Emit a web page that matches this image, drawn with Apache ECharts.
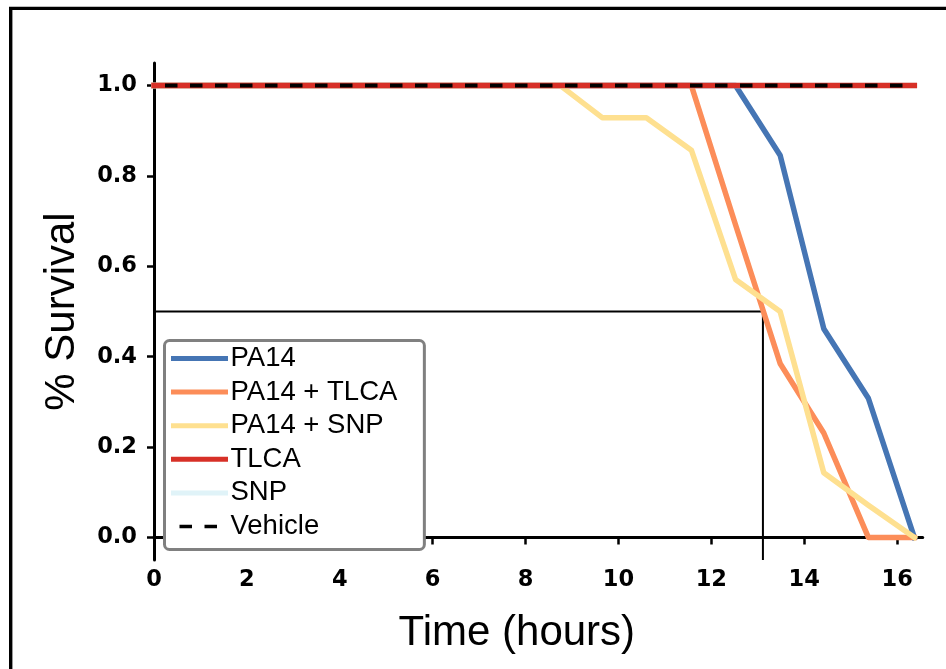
<!DOCTYPE html>
<html>
<head>
<meta charset="utf-8">
<script src="https://cdn.jsdelivr.net/npm/echarts@6/dist/echarts.min.js"></script>
<style>
html,body{margin:0;padding:0;background:#fff;}
#chart{width:946px;height:669px;}
</style>
</head>
<body>
<div id="chart"></div>
<script>
// ---- data ----
var times = [0, 8.75, 9.65, 10.6, 11.57, 12.52, 13.48, 14.42, 15.38, 16.37];
var pa14      = [1, 1, 1, 1, 1, 1, 0.846, 0.462, 0.308, 0];
var pa14Tlca  = [1, 1, 1, 1, 1, 0.692, 0.385, 0.231, 0, 0];
var pa14Snp   = [1, 1, 0.929, 0.929, 0.857, 0.571, 0.5, 0.143, 0.071, 0];
var tlca      = [1, 1, 1, 1, 1, 1, 1, 1, 1, 1];
var snp       = [1, 1, 1, 1, 1, 1, 1, 1, 1, 1];
var vehicle   = [1, 1, 1, 1, 1, 1, 1, 1, 1, 1];
var seriesNames = ['PA14', 'PA14 + TLCA', 'PA14 + SNP', 'TLCA', 'SNP', 'Vehicle'];
var medianSurvival = 0.5;
var medianTime = 13.11;
var xTicks = [0, 2, 4, 6, 8, 10, 12, 14, 16];
var yTicks = [0, 0.2, 0.4, 0.6, 0.8, 1.0];
var xLabel = 'Time (hours)';
var yLabel = '% Survival';

function pairs(ys) { return times.map(function (t, i) { return [t, ys[i]]; }); }

var chart = echarts.init(document.getElementById('chart'), null, {renderer: 'canvas'});

function lineSeries(name, ys, color, z) {
  return {
    name: name, type: 'line', data: pairs(ys), symbol: 'none', z: z,
    lineStyle: {color: color, width: 5.5, cap: 'square', join: 'round'},
    itemStyle: {color: color},
    animation: false
  };
}

var tickFont = {fontFamily: '"DejaVu Sans", sans-serif', fontWeight: 'bold', fontSize: 22.5, color: '#000'};
var nameFont = {fontFamily: '"Liberation Sans", Arial, sans-serif', fontSize: 42, color: '#000'};

var option = {
  animation: false,
  backgroundColor: '#fff',
  grid: {left: 154, right: 23.3, top: 63, bottom: 109, containLabel: false},
  xAxis: {
    type: 'value', min: 0, max: 16.55,
    name: xLabel, nameLocation: 'middle', nameGap: 52.5,
    nameTextStyle: Object.assign({padding: [0, 43, 0, 0]}, nameFont),
    axisLine: {show: true, lineStyle: {color: '#000', width: 3}},
    axisTick: {show: true, length: 7, lineStyle: {color: '#000', width: 2.5}, customValues: xTicks},
    axisLabel: Object.assign({margin: 9, customValues: xTicks, formatter: function (v) { return String(v); }}, tickFont),
    splitLine: {show: false}
  },
  yAxis: {
    type: 'value', min: -0.05, max: 1.05,
    name: yLabel, nameLocation: 'middle', nameGap: 71, nameRotate: 90,
    nameTextStyle: nameFont,
    axisLine: {show: true, lineStyle: {color: '#000', width: 3}},
    axisTick: {show: true, length: 7, lineStyle: {color: '#000', width: 2.5}, customValues: yTicks},
    axisLabel: Object.assign({margin: 17, customValues: yTicks, formatter: function (v) { return v.toFixed(1); }}, tickFont),
    splitLine: {show: false}
  },
  legend: {
    z: 20,
    orient: 'vertical', left: 164.5, top: 340.5,
    padding: [4, 27, 9, 6.5],
    itemWidth: 52, itemHeight: 5, itemGap: 5.6,
    backgroundColor: '#fff', borderColor: '#808080', borderWidth: 3, borderRadius: 5,
    itemStyle: {opacity: 0},
    lineStyle: {width: 5},
    textStyle: {fontFamily: '"Liberation Sans", Arial, sans-serif', fontSize: 27.5, color: '#000', lineHeight: 28},
    data: [
      {name: seriesNames[0]},
      {name: seriesNames[1]},
      {name: seriesNames[2]},
      {name: seriesNames[3]},
      {name: seriesNames[4]},
      {name: seriesNames[5], lineStyle: {width: 3.5, dashOffset: 19}}
    ]
  },
  graphic: [{
    type: 'rect', z: 100, silent: true,
    shape: {x: 10.7, y: 8.4, width: 2000, height: 2000},
    style: {fill: null, stroke: '#000', lineWidth: 3.4}
  }],
  series: [
    {
      name: 'median', type: 'line', symbol: 'none', z: 1, silent: true,
      data: [[0, medianSurvival], [medianTime, medianSurvival], [medianTime, -0.05]],
      lineStyle: {color: '#000', width: 2}
    },
    lineSeries(seriesNames[0], pa14, '#4575b4', 2),
    lineSeries(seriesNames[1], pa14Tlca, '#fc8d59', 2),
    lineSeries(seriesNames[2], pa14Snp, '#fee090', 2),
    lineSeries(seriesNames[4], snp, '#e0f3f8', 2),
    lineSeries(seriesNames[3], tlca, '#d73027', 2),
    {
      name: seriesNames[5], type: 'line', data: pairs(vehicle), symbol: 'none', z: 3,
      lineStyle: {color: '#000', width: 4, type: [12.5, 12.5], dashOffset: 14, cap: 'butt'},
      itemStyle: {color: '#000'}
    }
  ]
};
chart.setOption(option);
</script>
</body>
</html>
